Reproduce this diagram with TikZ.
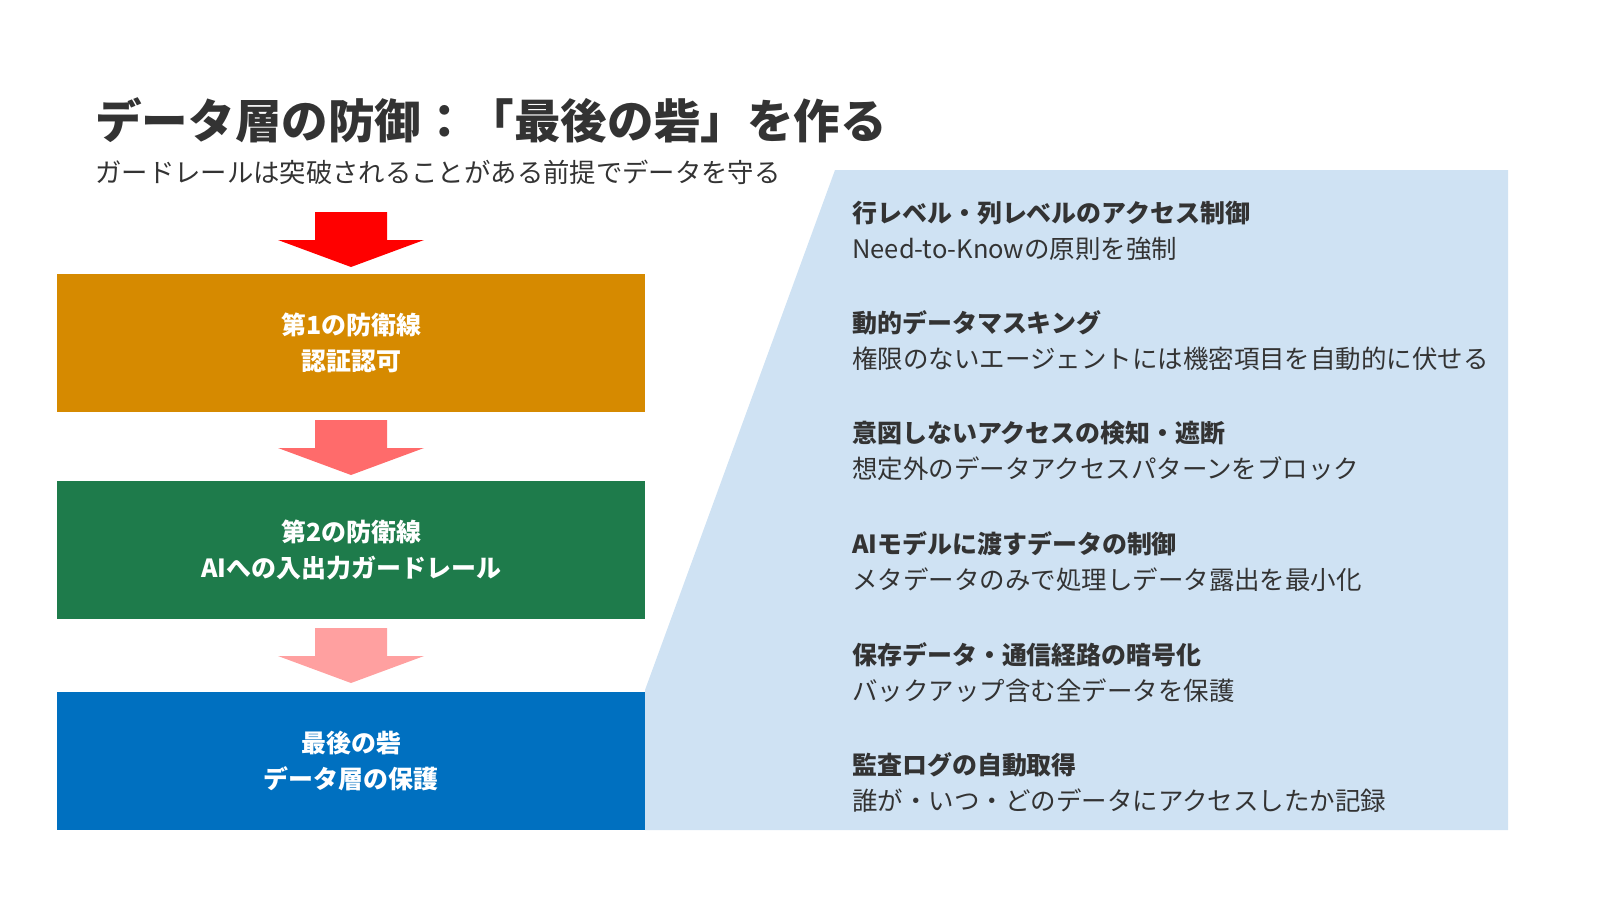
\documentclass[tikz,border=0pt]{standalone}
\usepackage{fontspec}
\setmainfont{Noto Sans CJK JP}
\usepackage{tikz}
\definecolor{TitleGray}{HTML}{333333}
\definecolor{PanelBlue}{HTML}{CFE2F3}
\definecolor{LineOrange}{HTML}{D68A00}
\definecolor{LineGreen}{HTML}{1E7B4B}
\definecolor{LineBlue}{HTML}{0070C0}
\definecolor{ArrowA}{HTML}{FF0000}
\definecolor{ArrowB}{HTML}{FF6B6B}
\definecolor{ArrowC}{HTML}{FFA0A0}

\begin{document}
\begin{tikzpicture}[x=0.02cm, y=-0.02cm,
  defbox/.style={minimum width=11.76cm, minimum height=2.76cm, inner sep=0pt, anchor=north west,
    text=white, font=\fontsize{14.2}{20.5}\selectfont\bfseries, align=center},
  itemhead/.style={anchor=west, inner sep=0pt, text=TitleGray, font=\fontsize{14.2}{17}\selectfont\bfseries},
  itembody/.style={anchor=west, inner sep=0pt, text=TitleGray, font=\fontsize{14.5}{17}\selectfont}]
\useasboundingbox (0,0) rectangle (1600,900);

% right panel
\fill [PanelBlue] (835,170) -- (1508,170) -- (1508,830) -- (645,830) -- (645,690) -- cycle;

% title
\node (title) [anchor=west, inner sep=0pt, text=TitleGray, font=\fontsize{26.5}{30}\selectfont\bfseries] at (95,120) {データ層の防御：「最後の砦」を作る};
\node (subtitle) [anchor=west, inner sep=0pt, text=TitleGray, font=\fontsize{15}{18}\selectfont] at (95,172) {ガードレールは突破されることがある前提でデータを守る};

% arrows
\foreach \ytop/\col in {212/ArrowA, 420/ArrowB, 628/ArrowC}
\fill [\col] (315,\ytop) -- (387,\ytop) -- (387,\ytop+28) -- (424,\ytop+28) -- (351,\ytop+55)
  -- (278,\ytop+28) -- (315,\ytop+28) -- cycle;

% lines of defence
\node (first) [defbox, fill=LineOrange] at (57,274) {第1の防衛線\\認証認可};
\node (second) [defbox, fill=LineGreen] at (57,481) {第2の防衛線\\AIへの入出力ガードレール};
\node (last) [defbox, fill=LineBlue] at (57,692) {最後の砦\\データ層の保護};

% measures
\foreach \y/\head/\body [count=\i] in {
  213/行レベル・列レベルのアクセス制御/Need-to-Knowの原則を強制,
  323/動的データマスキング/権限のないエージェントには機密項目を自動的に伏せる,
  433/意図しないアクセスの検知・遮断/想定外のデータアクセスパターンをブロック,
  544/AIモデルに渡すデータの制御/メタデータのみで処理しデータ露出を最小化,
  655/保存データ・通信経路の暗号化/バックアップ含む全データを保護,
  765/監査ログの自動取得/誰が・いつ・どのデータにアクセスしたか記録}
{
\node (head\i) [itemhead] at (852,\y) {\head};
\node (body\i) [itembody] at (852,\y+36) {\body};
}
\end{tikzpicture}
\end{document}
